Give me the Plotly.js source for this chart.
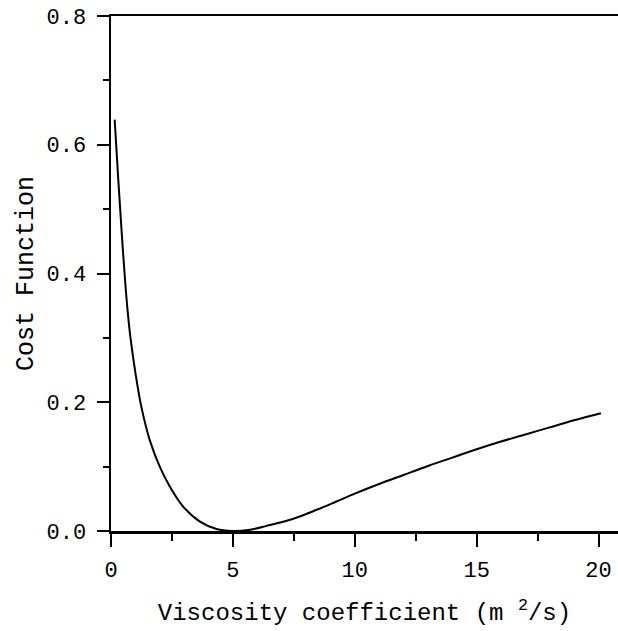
<!DOCTYPE html>
<html>
<head>
<meta charset="utf-8">
<script src="https://cdn.plot.ly/plotly-3.0.1.min.js"></script>
<style>html,body{margin:0;padding:0;background:#fff;}#chart{width:618px;height:631px;}</style>
</head>
<body>
<div id="chart"></div>
<script>
// Viscosity coefficient (m^2/s)
var viscosity = [0.15, 0.3, 0.45, 0.6, 0.7, 0.8, 1.0, 1.25, 1.6, 2.0, 2.4, 2.96, 3.65, 4.33, 4.97, 5.71, 6.39, 7.48, 8.44, 9.2, 10.0, 11.0, 12.0, 13.0, 14.0, 15.0, 16.0, 17.0, 18.0, 19.0, 20.1];
// Cost function values
var cost = [0.639, 0.545, 0.457, 0.378, 0.335, 0.300, 0.246, 0.192, 0.140, 0.100, 0.070, 0.038, 0.0145, 0.003, 0.0, 0.002, 0.008, 0.019, 0.033, 0.045, 0.058, 0.073, 0.087, 0.101, 0.114, 0.127, 0.139, 0.150, 0.161, 0.172, 0.183];

var xTickVals = [0, 5, 10, 15, 20];
var yTickVals = [0.0, 0.2, 0.4, 0.6, 0.8];
var yTickText = ['0.0', '0.2', '0.4', '0.6', '0.8'];

var tickFont = {family: 'Liberation Mono, Courier New, monospace', size: 22, color: '#000'};
var titleFont = {family: 'Liberation Mono, Courier New, monospace', size: 24, color: '#000'};
var yTitleFont = {family: 'Liberation Mono, Courier New, monospace', size: 25, color: '#000'};

var trace = {
  x: viscosity, y: cost, type: 'scatter', mode: 'lines',
  line: {color: '#000', width: 2, shape: 'spline', smoothing: 1},
  hoverinfo: 'skip'
};

var layout = {
  width: 618, height: 631,
  margin: {l: 111, r: 0, t: 16, b: 100},
  paper_bgcolor: '#fff', plot_bgcolor: '#fff',
  showlegend: false,
  xaxis: {
    range: [0, 20.8], showgrid: false, zeroline: false,
    showline: true, linecolor: '#000', linewidth: 2.5, mirror: true,
    ticks: 'outside', ticklen: 13, tickwidth: 2, tickcolor: '#000',
    ticklabelstandoff: 4,
    tickvals: xTickVals, tickfont: tickFont,
    minor: {dtick: 2.5, tick0: 0, ticks: 'outside', ticklen: 7, tickwidth: 2, tickcolor: '#000', showgrid: false},
    title: {text: 'Viscosity coefficient (m <sup>2</sup>/s)', font: titleFont, standoff: 21}
  },
  yaxis: {
    range: [0, 0.8], showgrid: false, zeroline: false,
    showline: true, linecolor: '#000', linewidth: 2.5,
    ticks: 'outside', ticklen: 12, tickwidth: 2, tickcolor: '#000',
    ticklabelstandoff: 6,
    tickvals: yTickVals, ticktext: yTickText, tickfont: tickFont,
    minor: {dtick: 0.1, tick0: 0, ticks: 'outside', ticklen: 6, tickwidth: 2, tickcolor: '#000', showgrid: false},
    title: {text: 'Cost Function', font: yTitleFont, standoff: 6}
  }
};

Plotly.newPlot('chart', [trace], layout, {staticPlot: true, displayModeBar: false});
</script>
</body>
</html>
